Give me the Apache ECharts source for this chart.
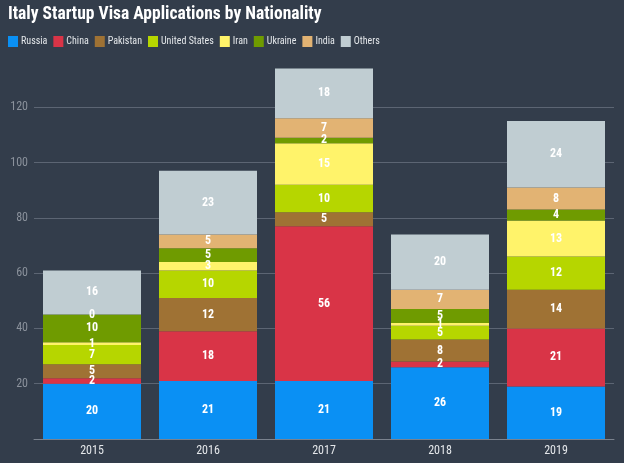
<!DOCTYPE html>
<html>
<head>
    <meta charset="utf-8">
    <title>Italy Startup Visa Applications</title>
    <script src="https://cdn.jsdelivr.net/npm/echarts@6/dist/echarts.min.js"></script>
    <style>
        html, body { margin: 0; padding: 0; background: #333d4b; }
    </style>
</head>
<body>
    <div id="main" style="width: 624px;height:463px;"></div>
    <script>
        var FONT = '"Roboto Condensed", "DejaVu Sans Condensed", "Liberation Sans Narrow", Roboto, sans-serif';

        var years = ['2015', '2016', '2017', '2018', '2019'];
        var russia = [20, 21, 21, 26, 19];
        var china = [2, 18, 56, 2, 21];
        var pakistan = [5, 12, 5, 8, 14];
        var unitedStates = [7, 10, 10, 5, 12];
        var iran = [1, 3, 15, 1, 13];
        var ukraine = [10, 5, 2, 5, 4];
        var india = [0, 5, 7, 7, 8];
        var others = [16, 23, 18, 20, 24];
        var yTicks = [0, 20, 40, 60, 80, 100, 120, 140];

        var groups = [
            { name: 'Russia', data: russia, color: '#0a90f4' },
            { name: 'China', data: china, color: '#d93447' },
            { name: 'Pakistan', data: pakistan, color: '#9f7234' },
            { name: 'United States', data: unitedStates, color: '#b6d600' },
            { name: 'Iran', data: iran, color: '#fff36a' },
            { name: 'Ukraine', data: ukraine, color: '#6f9b00' },
            { name: 'India', data: india, color: '#e2b373' },
            { name: 'Others', data: others, color: '#c0cdd2' }
        ];

        var chartDom = document.getElementById('main');
        var myChart = echarts.init(chartDom);

        // last split line (the max) is hidden
        var gridColors = yTicks.map(function (v, i) {
            return i === yTicks.length - 1 ? 'rgba(0,0,0,0)' : '#5c6573';
        });

        var option = {
            backgroundColor: '#333d4b',
            animation: false,
            title: {
                text: 'Italy Startup Visa Applications by Nationality',
                left: 3,
                top: 1,
                textStyle: { color: '#ffffff', fontSize: 17.5, fontWeight: 'bold', fontFamily: FONT }
            },
            legend: {
                left: 3,
                top: 31,
                itemWidth: 10,
                itemHeight: 11,
                itemGap: 6,
                icon: 'rect',
                textStyle: { color: '#e4e7ea', fontSize: 10, fontFamily: FONT, padding: [0, 0, 0, -2] },
                data: groups.map(function (g) { return g.name; })
            },
            grid: { left: 34, right: 10, top: 52, bottom: 24 },
            xAxis: {
                type: 'category',
                data: years,
                axisTick: { show: false },
                axisLine: { lineStyle: { color: '#7a828e' } },
                axisLabel: { color: '#e4e7ea', fontSize: 12, fontFamily: FONT, margin: 6 }
            },
            yAxis: {
                type: 'value',
                min: 0,
                max: 140,
                interval: 20,
                axisLabel: {
                    color: '#8b929c', fontSize: 12, fontFamily: FONT, margin: 6,
                    showMinLabel: false, showMaxLabel: false
                },
                splitLine: { lineStyle: { color: gridColors, width: 1 } }
            },
            series: groups.map(function (g) {
                return {
                    name: g.name,
                    type: 'bar',
                    stack: 'total',
                    barWidth: 98,
                    data: g.data,
                    itemStyle: { color: g.color },
                    label: {
                        show: true,
                        position: 'inside',
                        color: '#ffffff',
                        fontWeight: 'bold',
                        fontSize: 12,
                        fontFamily: FONT
                    }
                };
            })
        };

        option && myChart.setOption(option);
    </script>
</body>
</html>
